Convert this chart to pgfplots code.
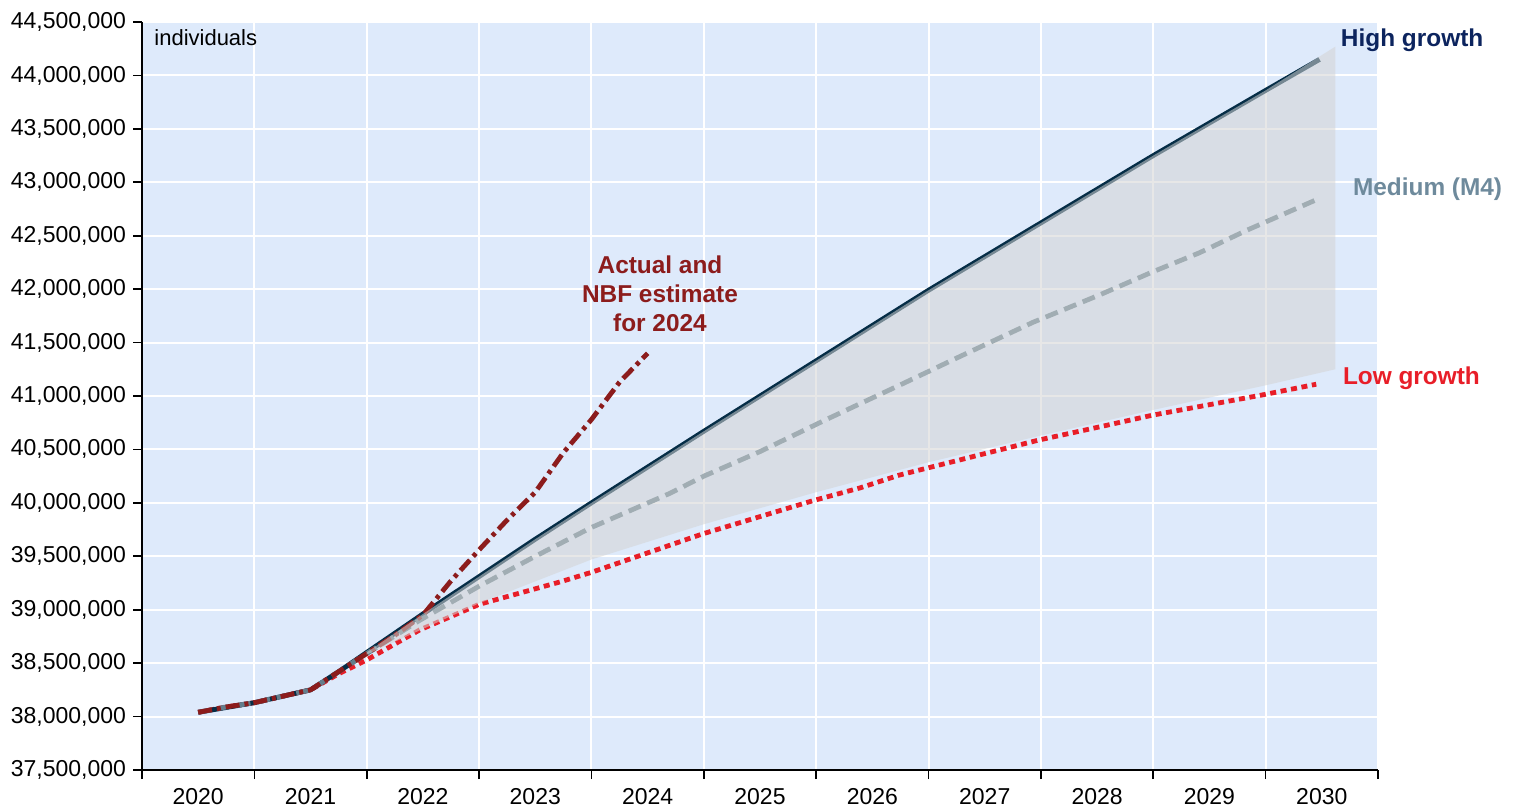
\documentclass[border=0pt]{standalone}
\usepackage{pgfplots}
\pgfplotsset{compat=1.18}
\usepackage{fontspec}
\setmainfont{Liberation Sans}
\definecolor{bgblue}{RGB}{222,234,251}
\definecolor{navyline}{RGB}{5,45,70}
\definecolor{medline}{RGB}{100,126,140}
\definecolor{lowred}{RGB}{232,30,40}
\definecolor{actred}{RGB}{140,28,28}
\definecolor{hightxt}{RGB}{12,36,94}
\definecolor{medtxt}{RGB}{110,138,156}
\definecolor{bandgray}{RGB}{212,212,212}

\begin{document}
\begin{tikzpicture}
\useasboundingbox (-71pt,-19.5pt) rectangle (689pt,385pt);
\begin{axis}[
    scale only axis,
    width=618pt, height=374pt,
    xmin=2020, xmax=2031,
    ymin=37.5, ymax=44.5,
    axis x line*=bottom, axis y line*=left,
    axis line style={black, line width=1pt, -},
    axis background/.style={fill=bgblue},
    clip=false,
    tick align=outside,
    major tick length=4.5pt,
    tick style={black, line width=0.8pt},
    xtick={2020,2021,2022,2023,2024,2025,2026,2027,2028,2029,2030,2031},
    xticklabels={2020,2021,2022,2023,2024,2025,2026,2027,2028,2029,2030,},
    xticklabel style={xshift=28.09pt, yshift=-1pt},
    ytick={37.5,38,38.5,39,39.5,40,40.5,41,41.5,42,42.5,43,43.5,44,44.5},
    yticklabels={{37,500,000},{38,000,000},{38,500,000},{39,000,000},{39,500,000},
      {40,000,000},{40,500,000},{41,000,000},{41,500,000},{42,000,000},{42,500,000},
      {43,000,000},{43,500,000},{44,000,000},{44,500,000}},
    ticklabel style={font=\fontsize{11.5}{13}\selectfont},
    grid=major,
    major grid style={white, line width=1pt},
]
% low growth
\addplot[lowred, line width=2.4pt, dash pattern=on 3pt off 2.3pt] coordinates {
 (2020.5,38.04) (2020.75,38.09) (2021.0,38.13) (2021.25,38.19) (2021.5,38.25)
 (2021.75,38.40) (2022.0,38.53) (2022.47,38.81) (2023.0,39.05) (2023.72,39.26)
 (2024.0,39.35) (2024.99,39.71) (2025.97,40.02) (2026.39,40.14) (2026.74,40.26)
 (2027.99,40.59) (2028.43,40.69) (2028.99,40.82) (2029.97,41.01) (2030.45,41.11)};
% high growth
\addplot[navyline, line width=2.4pt] coordinates {
 (2020.5,38.04) (2021.0,38.13) (2021.5,38.25) (2021.75,38.42) (2022.0,38.60)
 (2022.5,38.96) (2023.0,39.31) (2023.5,39.66) (2024.0,40.00) (2025.0,40.67)
 (2026.0,41.33) (2027.0,41.99) (2028.0,42.62) (2029.0,43.25) (2030.0,43.86)
 (2030.48,44.15)};
% medium (M4)
\addplot[medline, line width=2.4pt, dash pattern=on 6.5pt off 3.5pt] coordinates {
 (2020.5,38.04) (2020.75,38.09) (2021.0,38.13) (2021.25,38.19) (2021.5,38.25)
 (2021.75,38.42) (2022.0,38.59) (2022.47,38.90) (2023.0,39.22) (2023.5,39.50)
 (2024.0,39.77) (2024.7,40.09) (2025.0,40.25) (2025.5,40.48) (2026.09,40.78)
 (2026.74,41.10) (2027.3,41.38) (2027.93,41.69) (2028.52,41.945) (2028.99,42.16)
 (2029.41,42.34) (2029.83,42.55) (2030.48,42.85)};
% actual and NBF estimate
\addplot[actred, line width=2.4pt, dash pattern=on 7pt off 2.5pt on 2pt off 2.5pt] coordinates {
 (2020.5,38.04) (2020.75,38.09) (2021.0,38.13) (2021.25,38.19) (2021.5,38.25)
 (2021.75,38.42) (2022.0,38.59) (2022.25,38.76) (2022.5,38.95) (2022.75,39.27)
 (2023.0,39.56) (2023.25,39.84) (2023.5,40.10) (2023.75,40.47) (2024.0,40.78)
 (2024.25,41.13) (2024.5,41.40)};
% projection range
\addplot[fill=bandgray, fill opacity=0.55, draw=none] coordinates {
 (2022.0,38.60) (2022.5,38.96) (2023.0,39.31) (2023.5,39.66) (2024.0,40.00)
 (2025.0,40.67) (2026.0,41.33) (2027.0,41.99) (2028.0,42.62) (2029.0,43.25)
 (2030.0,43.86) (2030.62,44.27)
 (2030.62,41.25) (2030.0,41.10) (2029.0,40.87) (2028.0,40.63) (2027.0,40.38)
 (2026.0,40.10) (2025.0,39.80) (2024.0,39.47) (2023.0,39.06) (2022.0,38.58)} -- cycle;

\node[anchor=west, inner sep=0pt, font=\fontsize{11}{13}\selectfont] at (axis cs:2020.107,44.35) {individuals};
\node[anchor=west, inner sep=0pt, text=hightxt, font=\fontsize{12.2}{14}\selectfont\bfseries] at (axis cs:2030.667,44.33) {High growth};
\node[anchor=west, inner sep=0pt, text=medtxt, font=\fontsize{12.2}{14}\selectfont\bfseries] at (axis cs:2030.774,42.937) {Medium (M4)};
\node[anchor=west, inner sep=0pt, text=lowred, font=\fontsize{12.2}{14}\selectfont\bfseries] at (axis cs:2030.685,41.168) {Low growth};
\node[align=center, inner sep=0pt, text=actred, font=\fontsize{12.2}{14.5}\selectfont\bfseries] at (axis cs:2024.61,41.955) {Actual and\\NBF estimate\\for 2024};
\end{axis}
\end{tikzpicture}
\end{document}
